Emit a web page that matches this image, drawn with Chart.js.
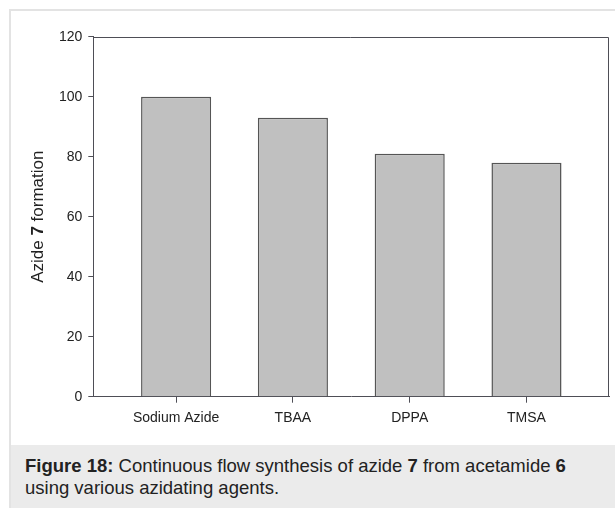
<!DOCTYPE html>
<html>
<head>
<meta charset="utf-8">
<script src="https://cdn.jsdelivr.net/npm/chart.js@4"></script>
<style>
  html, body { margin: 0; padding: 0; background: #fff; width: 615px; height: 508px; overflow: hidden; }
  #fig { position: absolute; left: 9px; top: 9px; width: 640px; height: 540px; border-left: 2px solid #e3e3e3; border-top: 2px solid #e3e3e3; background: #fff; }
  #cap { position: absolute; left: 11px; top: 445px; width: 640px; height: 80px; background: #ebebeb;
         font-family: "Liberation Sans", Arial, Helvetica, sans-serif; font-size: 18.5px; line-height: 22px; color: #222;
         box-sizing: border-box; padding: 10px 0 0 14px; white-space: nowrap; }
  #wrap { position: absolute; left: 0; top: 0; width: 615px; height: 445px; }
</style>
</head>
<body>
<div id="fig"></div>
<div id="wrap"><canvas id="c"></canvas></div>
<div id="cap"><b>Figure 18:</b> Continuous flow synthesis of azide <b>7</b> from acetamide <b>6</b><br>using various azidating agents.</div>
<script>
const categories = ['Sodium Azide', 'TBAA', 'DPPA', 'TMSA'];
const formation = [100, 93, 81, 78];
const yTicks = [0, 20, 40, 60, 80, 100, 120];
const yTitleParts = [['Azide ', false], ['7', true], [' formation', false]];

const FONT = '"Liberation Sans", Arial, Helvetica, sans-serif';
const AXIS = '#4e4e56';

const framePlugin = {
  id: 'frame',
  afterDraw(chart) {
    const { ctx, chartArea: a } = chart;
    ctx.save();
    ctx.strokeStyle = AXIS;
    ctx.lineWidth = 1;
    ctx.beginPath();
    const t = Math.round(a.top) + 0.5, r = Math.round(a.right) - 0.5;
    ctx.moveTo(Math.round(a.left), t);
    ctx.lineTo(r, t);
    ctx.lineTo(r, Math.round(a.bottom));
    ctx.stroke();
    // y-axis title with bold numeral
    ctx.translate(43, (a.top + a.bottom) / 2);
    ctx.rotate(-Math.PI / 2);
    ctx.fillStyle = '#222';
    ctx.textBaseline = 'alphabetic';
    let total = 0;
    const widths = yTitleParts.map(([s, b]) => {
      ctx.font = (b ? 'bold ' : '') + '17px ' + FONT;
      const w = ctx.measureText(s).width; total += w; return w;
    });
    let x = -total / 2;
    yTitleParts.forEach(([s, b], i) => {
      ctx.font = (b ? 'bold ' : '') + '17px ' + FONT;
      ctx.fillText(s, x, 0);
      x += widths[i];
    });
    ctx.restore();
  }
};

new Chart(document.getElementById('c'), {
  type: 'bar',
  data: {
    datasets: [{
      data: categories.map((c, i) => ({ x: i, y: formation[i] })),
      backgroundColor: '#c0c0c0',
      borderColor: '#555555',
      borderWidth: 1.5,
      barPercentage: 0.6,
      categoryPercentage: 1
    }]
  },
  options: {
    responsive: true,
    maintainAspectRatio: false,
    animation: false,
    layout: { padding: { top: 36.7, right: 5.7, left: 0, bottom: 0 } },
    plugins: { legend: { display: false }, tooltip: { enabled: false } },
    scales: {
      x: {
        type: 'linear',
        offset: false,
        min: -0.709,
        max: 3.709,
        afterBuildTicks: s => { s.ticks = categories.map((_, i) => ({ value: i })); },
        afterFit: s => { s.height = 48.3; },
        ticks: {
          callback: v => categories[v],
          font: { family: FONT, size: 14 },
          color: '#222',
          padding: 7,
          autoSkip: false,
          maxRotation: 0
        },
        grid: { offset: false, drawOnChartArea: false, drawTicks: true, tickLength: 6, color: AXIS },
        border: { color: AXIS, width: 1 }
      },
      y: {
        min: 0,
        max: 120,
        afterBuildTicks: s => { s.ticks = yTicks.map(v => ({ value: v })); },
        afterFit: s => { s.width = 93.3; },
        ticks: {
          font: { family: FONT, size: 14 },
          color: '#222',
          padding: 6
        },
        grid: { drawOnChartArea: false, drawTicks: true, tickLength: 5, color: AXIS },
        border: { color: AXIS, width: 1 }
      }
    }
  },
  plugins: [framePlugin]
});
</script>
</body>
</html>
